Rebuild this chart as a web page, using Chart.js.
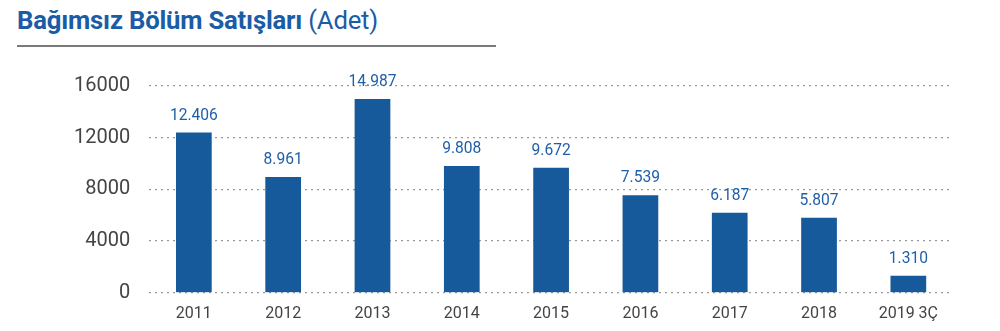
<!DOCTYPE html>
<html lang="tr">
<head>
<meta charset="utf-8">
<title>Bağımsız Bölüm Satışları</title>
<script src="https://cdn.jsdelivr.net/npm/chart.js@4/dist/chart.umd.min.js"></script>
<style>
  html, body { margin: 0; padding: 0; background: #fff; }
  body { width: 1000px; height: 331px; position: relative; overflow: hidden; font-family: Roboto, sans-serif; }
  #baslik {
    position: absolute; left: 17px; top: 5px;
    font-size: 25.7px; color: #1b5ca6; font-weight: 700; letter-spacing: -0.2px;
  }
  #baslik span { font-weight: 400; }
  #cizgi { position: absolute; left: 17px; top: 45px; width: 479px; height: 2px; background: #7a7a7a; }
  #kutu { position: absolute; left: 0; top: 0; width: 1000px; height: 342px; }
</style>
</head>
<body>
<div id="baslik">Bağımsız Bölüm Satışları <span>(Adet)</span></div>
<div id="cizgi"></div>
<div id="kutu"><canvas id="grafik"></canvas></div>
<script>
// yıllar ve satış adetleri
const yillar = ['2011', '2012', '2013', '2014', '2015', '2016', '2017', '2018', '2019 3Ç'];
const satislar = [12406, 8961, 14987, 9808, 9672, 7539, 6187, 5807, 1310];
const eksenDegerleri = [0, 4000, 8000, 12000, 16000];

// 12406 -> "12.406"
function binlik(n) {
  return String(n).replace(/\B(?=(\d{3})+(?!\d))/g, '.');
}

// çubukların üstüne değer yaz
const degerYazisi = {
  id: 'degerYazisi',
  afterDatasetsDraw(chart) {
    const ctx = chart.ctx;
    const meta = chart.getDatasetMeta(0);
    ctx.save();
    ctx.font = '15.6px Roboto';
    ctx.fillStyle = '#1f5fa8';
    ctx.textAlign = 'center';
    ctx.textBaseline = 'bottom';
    meta.data.forEach((bar, i) => {
      ctx.fillText(binlik(satislar[i]), bar.x, bar.y - 9);
    });
    ctx.restore();
  }
};

new Chart(document.getElementById('grafik'), {
  type: 'bar',
  data: {
    labels: yillar,
    datasets: [{
      data: satislar,
      backgroundColor: '#175a9b',
      barPercentage: 0.5,
      categoryPercentage: 0.8
    }]
  },
  options: {
    responsive: true,
    maintainAspectRatio: false,
    animation: false,
    layout: { padding: { left: 55, right: 47, top: 86, bottom: 6 } },
    plugins: { legend: { display: false }, tooltip: { enabled: false } },
    scales: {
      x: {
        grid: { display: false, drawTicks: false },
        border: { display: false },
        ticks: { color: '#444', font: { family: 'Roboto', size: 16 }, padding: 12 }
      },
      y: {
        min: 0,
        max: 16000,
        afterBuildTicks(axis) { axis.ticks = eksenDegerleri.map(v => ({ value: v })); },
        grid: { color: '#9a9a9a', lineWidth: 1.3, drawTicks: false },
        border: { display: false, dash: [2, 4] },
        ticks: {
          color: '#444',
          font: { family: 'Roboto', size: 20 },
          padding: 19,
          callback: v => String(v)
        }
      }
    }
  },
  plugins: [degerYazisi]
});
</script>
</body>
</html>
